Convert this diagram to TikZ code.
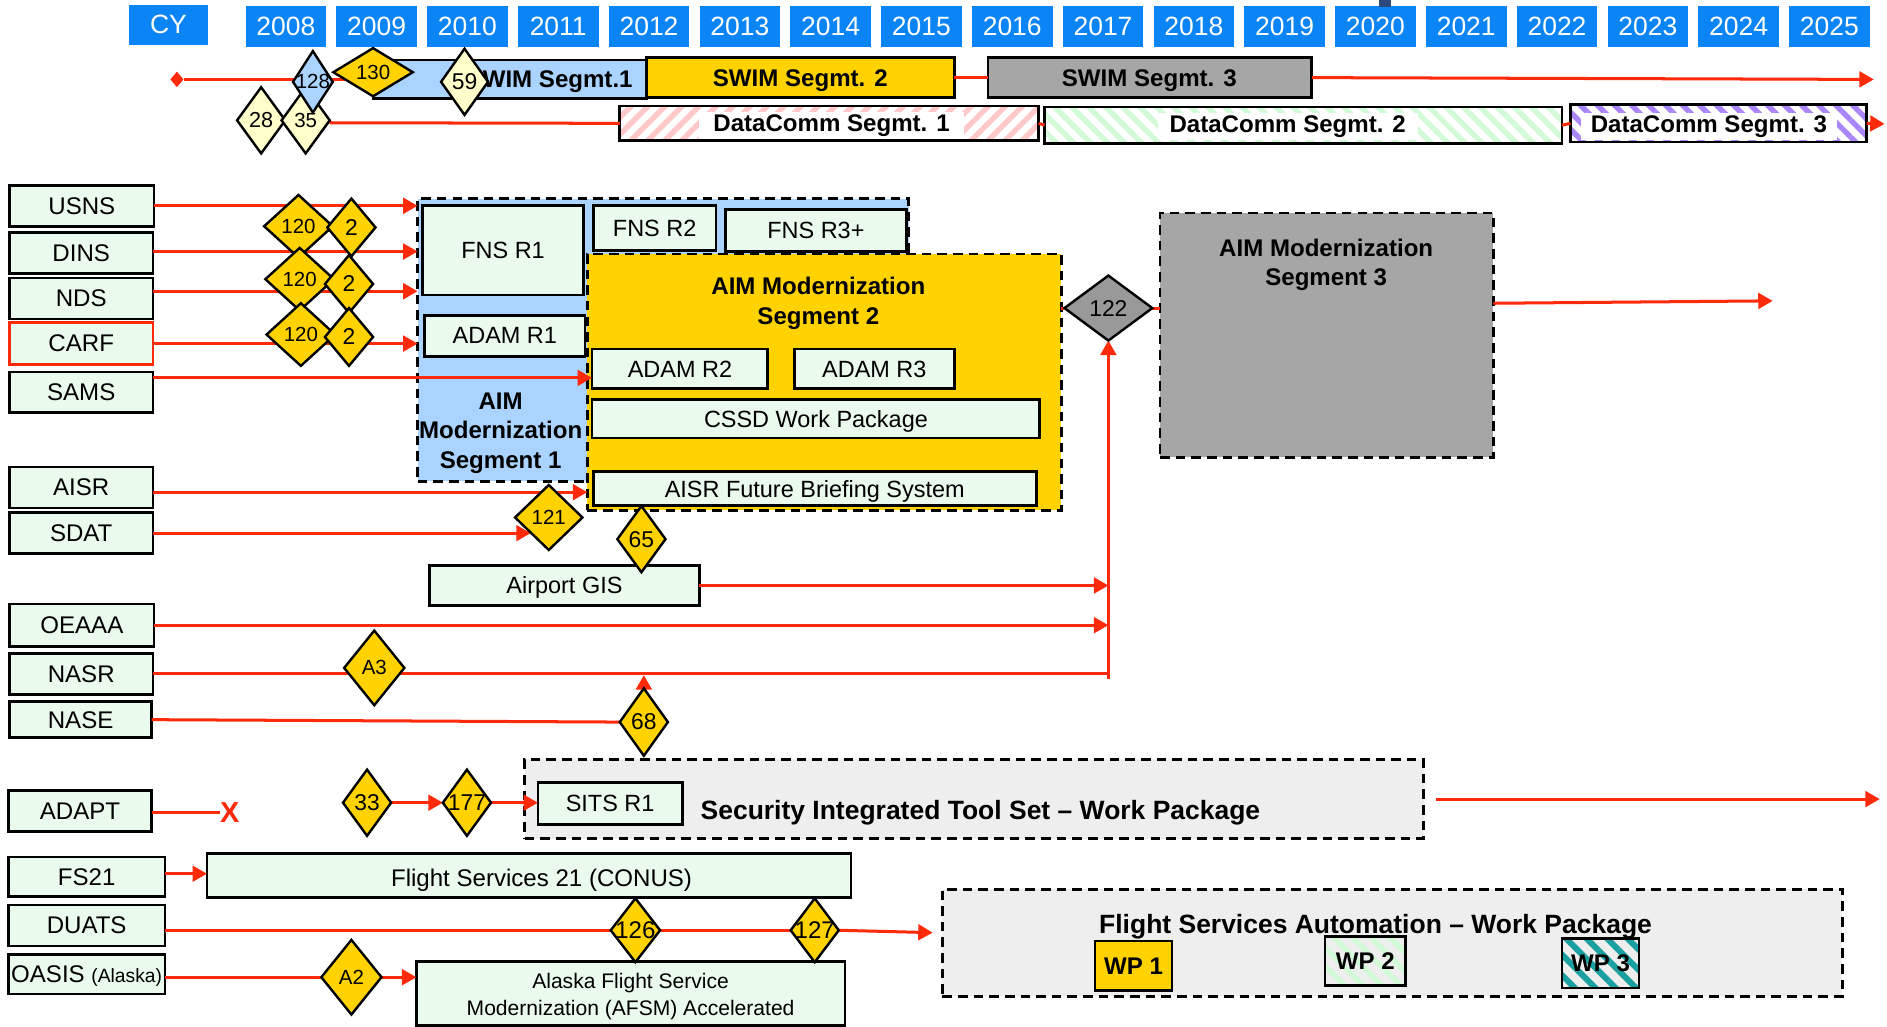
\documentclass[tikz,border=0pt]{standalone}
\usepackage{fontspec}
\setmainfont{Liberation Sans}
\usetikzlibrary{shapes.geometric,arrows.meta,patterns.meta}
\pgfdeclarelayer{front}
\pgfsetlayers{main,front}
\definecolor{lgreen}{HTML}{EAFAEC}
\definecolor{lblue}{HTML}{AAD4FF}
\definecolor{yel}{HTML}{FFD200}
\definecolor{gry}{HTML}{A6A6A6}
\definecolor{dgry}{HTML}{999999}
\definecolor{lyel}{HTML}{FFFFCC}
\definecolor{lgray}{HTML}{EEEEEE}
\definecolor{lred}{HTML}{FF2A0A}
\definecolor{yearblue}{HTML}{0B84F5}
\definecolor{navy}{HTML}{2E4A7D}
\definecolor{hpink}{HTML}{FFC8C8}
\definecolor{hgreen}{HTML}{D2FAD7}
\definecolor{hpurple}{HTML}{AA84FA}
\definecolor{hteal}{HTML}{1AA0A0}
\newcommand\fs[2]{\fontsize{#1}{#2}\selectfont}
\tikzset{
 base/.style={inner sep=0pt, outer sep=0pt, line width=2.2pt},
 gbox/.style={base, draw=black, fill=lgreen, font=\fs{20}{24}, text depth=0pt},
 ibox/.style={base, draw=black, fill=lgreen, font=\fs{19.5}{23}, text depth=0pt},
 hbox/.style={base, draw=black},
 ybox/.style={base, fill=yearblue, text=white, font=\fs{22}{26}},
 seg/.style={base, draw=black, dash pattern=on 8pt off 5pt},
 dia/.style={base, draw=black, diamond, line width=2pt},
 conn/.style={draw=lred, line width=2.5pt},
 arr/.style={conn, -{Triangle[length=12pt,width=13pt]}},
 btxt/.style={font=\bfseries\fs{20}{24}},
 wtxt/.style={btxt, fill=white, inner ysep=2pt},
 ttl/.style={font=\bfseries\fs{20}{24.5}, align=center},
}
\newcommand\rb[7]{\node[#1, minimum width={(#5)-(#3)}, minimum height={(#6)-(#4)}] (#2) at ({((#3)+(#5))/2},{((#4)+(#6))/2}) {#7};}
\newcommand\dm[8]{%
 \node[dia, fill=#6, minimum width=#4, minimum height=#5] (#1) at (#2,#3) {};
 \node[inner sep=0pt, font=\fs{#7}{#7}] (#1t) at (#1.center) {#8};}
\begin{document}
\begin{tikzpicture}[x=1pt,y=-1pt]
\fill[white] (0,0) rectangle (1568,853);
\useasboundingbox (0,0) rectangle (1568,853);

% ---------- years ----------
\rb{ybox}{cy}{107}{4}{173}{37}{CY}
\foreach \i in {0,...,17}{
 \pgfmathsetmacro\xa{204+75.45*\i}
 \pgfmathtruncatemacro\yr{2008+\i}
 \rb{ybox}{y\yr}{\xa}{5}{\xa+67}{39}{\yr}
}
\fill[navy] (1146,0) rectangle (1156,6);

% ---------- SWIM / DataComm ----------
\rb{hbox, fill=lblue}{swim1}{310}{50}{537}{82}{}
\node[btxt, anchor=west, inner sep=0pt] (swim1t) at (401,68) {WIM Segmt.1};
\rb{hbox, fill=yel, btxt}{swim2}{537}{48}{793}{81}{}
\node[btxt] (swim2t) at (665,67) {SWIM Segmt. 2};
\rb{hbox, fill=gry, btxt}{swim3}{821}{48}{1090}{81}{}
\node[btxt] (swim3t) at (955,67) {SWIM Segmt. 3};

\rb{hbox, pattern={Lines[angle=45,distance=10pt,line width=4.5pt]}, pattern color=hpink}{dc1}{515}{88}{863}{117}{}
\node[wtxt, inner xsep=12pt] (dc1t) at (691,104) {DataComm Segmt. 1};
\rb{hbox, pattern={Lines[angle=-45,distance=10pt,line width=4.5pt]}, pattern color=hgreen}{dc2}{868}{89}{1298}{119}{}
\node[wtxt, inner xsep=10pt] (dc2t) at (1070,105) {DataComm Segmt. 2};
\rb{hbox, pattern={Lines[angle=-45,distance=10pt,line width=4.5pt]}, pattern color=hpurple}{dc3}{1305}{87}{1551}{118}{}
\node[wtxt, inner xsep=8pt] (dc3t) at (1420,105) {DataComm Segmt. 3};

% ---------- left boxes ----------
\rb{gbox}{usns}{8}{154}{128}{188}{USNS}
\rb{gbox}{dins}{8}{193}{127}{227}{DINS}
\rb{gbox}{nds}{8}{231}{127}{265}{NDS}
\rb{gbox, draw=lred}{carf}{8}{268}{127}{303}{CARF}
\rb{gbox}{sams}{8}{309}{127}{343}{SAMS}
\rb{gbox}{aisr}{8}{388}{127}{422}{AISR}
\rb{gbox}{sdat}{8}{426}{127}{460}{SDAT}
\rb{gbox}{oeaaa}{8}{502}{128}{537}{OEAAA}
\rb{gbox}{nasr}{8}{543}{127}{577}{NASR}
\rb{gbox}{nase}{8}{583}{126}{613}{NASE}
\rb{gbox}{adapt}{7}{657}{126}{691}{ADAPT}
\rb{gbox}{fs21}{7}{712}{137}{745}{FS21}
\rb{gbox}{duats}{7}{752}{137}{786}{DUATS}
\rb{gbox}{oasis}{7}{793}{137}{826}{OASIS {\fs{16}{20}(Alaska)}}

% ---------- AIM segments ----------
\rb{seg, fill=lblue}{seg1}{347}{165}{755}{400}{}
\rb{ibox}{fnsr1}{351}{171}{485}{245}{FNS R1}
\rb{ibox}{adamr1}{353}{262}{486}{296}{ADAM R1}
\rb{ibox}{fnsr2}{493}{171}{595}{208}{FNS R2}
\rb{ibox}{fnsr3}{603}{174}{753}{209}{FNS R3+}
\node[ttl] (seg1t) at (416,360) {AIM\\Modernization\\Segment 1};
\rb{seg, fill=yel}{seg2}{488}{211}{882}{424}{}
\node[ttl] (seg2t) at (680,252) {AIM Modernization\\Segment 2};
\rb{ibox}{adamr2}{492}{290}{638}{323}{ADAM R2}
\rb{ibox}{adamr3}{660}{290}{793}{323}{ADAM R3}
\rb{ibox}{cssd}{492}{332}{864}{364}{CSSD Work Package}
\rb{ibox}{aisrfbs}{493}{392}{861}{420}{AISR Future Briefing System}
\rb{seg, fill=gry}{seg3}{964}{177}{1241}{380}{}
\node[ttl] (seg3t) at (1102,220) {AIM Modernization\\Segment 3};
\rb{ibox}{gis}{357}{470}{581}{503}{Airport GIS}

% ---------- SITS / flight services ----------
\rb{seg, fill=lgray}{sits}{436}{631}{1183}{697}{}
\rb{ibox}{sitsr1}{447}{650}{567}{685}{SITS R1}
\node[font=\bfseries\fs{22}{26}, anchor=west, text depth=0pt, inner sep=0pt] (sitst) at (582,673) {Security Integrated Tool Set – Work Package};
\rb{gbox}{fs21big}{172}{709}{707}{746}{}
\node[font=\fs{20}{24}, text depth=0pt, inner sep=0pt] (fs21t) at (450,729) {Flight Services 21 (CONUS)};
\rb{gbox}{afsm}{346}{799}{702}{852}{}
\node[font=\fs{17.5}{23}, align=center, inner sep=0pt] (afsmt) at (524,828) {Alaska Flight Service\\Modernization (AFSM) Accelerated};
\rb{seg, fill=lgray}{fsa}{783}{739}{1531}{828}{}
\node[font=\bfseries\fs{22}{26}, text depth=0pt, inner sep=0pt] (fsat) at (1143,768) {Flight Services Automation – Work Package};
\rb{hbox, fill=yel, font=\bfseries\fs{20}{24}}{wp1}{910}{782}{974}{823}{WP 1}
\rb{hbox, pattern={Lines[angle=-45,distance=11pt,line width=4.5pt]}, pattern color=hgreen}{wp2}{1101}{778}{1168}{819}{}
\node[font=\bfseries\fs{20}{24}] (wp2t) at (wp2.center) {WP 2};
\rb{hbox, pattern={Lines[angle=-45,distance=12pt,line width=5pt]}, pattern color=hteal}{wp3}{1298}{780}{1362}{821}{}
\node[font=\bfseries\fs{20}{24}] (wp3t) at (wp3.center) {WP 3};

% ---------- diamonds (front layer) ----------
\begin{pgfonlayer}{front}
\dm{d28}{217}{100}{40}{55}{lyel}{18}{28}
\dm{d35}{254}{100}{40}{55}{lyel}{17}{35}
\dm{d128}{260}{68}{33}{51}{lblue}{17}{128}
\dm{d130}{310}{60}{66}{40}{yel}{17}{130}
\dm{d59}{386}{68}{39}{55}{lyel}{19}{59}
\dm{da1}{248}{188}{57}{52}{yel}{17}{120}
\dm{db1}{292}{189}{40}{48}{yel}{19}{2}
\dm{da2}{249}{232}{57}{52}{yel}{17}{120}
\dm{db2}{290}{236}{40}{48}{yel}{19}{2}
\dm{da3}{250}{278}{57}{52}{yel}{17}{120}
\dm{db3}{290}{280}{40}{48}{yel}{19}{2}
\dm{d122}{921}{256}{73}{54}{dgry}{19}{122}
\dm{d121}{456}{430}{56}{54}{yel}{17}{121}
\dm{d65}{533}{448}{40}{55}{yel}{19}{65}
\dm{dA3}{311}{555}{50}{62}{yel}{17}{A3}
\dm{d68}{535}{600}{40}{56}{yel}{19}{68}
\dm{d33}{305}{667}{40}{55}{yel}{19}{33}
\dm{d177}{388}{667}{40}{55}{yel}{19}{177}
\dm{d126}{528}{773}{41}{53}{yel}{20}{126}
\dm{d127}{677}{773}{40}{53}{yel}{20}{127}
\dm{dA2}{292}{812}{50}{62}{yel}{17}{A2}
\end{pgfonlayer}

% ---------- connectors ----------
\node[diamond, fill=lred, minimum width=11, minimum height=13, inner sep=0pt] (mk) at (147,66) {};
\draw[conn] (mk) -- (swim1.west);
\draw[conn] (swim2.east) -- (swim3.west);
\coordinate (r1end) at (1557,66);
\draw[arr] (swim3.east) -- (r1end);
\draw[conn] ([yshift=-2pt]d35.east) -- (dc1.west);
\draw[conn] (dc1.east) -- (dc2.west);
\draw[conn] (dc2.east) -- (dc3.west);
\coordinate (r2end) at (1566,103);
\draw[arr] (dc3.east) -- (r2end);

\draw[arr] (usns.east) -- (usns.east -| seg1.west);
\draw[arr] ([yshift=1pt]dins.east) -- ([yshift=1pt]dins.east -| seg1.west);
\draw[arr] ([yshift=6pt]nds.east) -- ([yshift=6pt]nds.east -| seg1.west);
\draw[arr] (carf.east) -- (carf.east -| seg1.west);
\draw[arr] ([yshift=12pt]sams.east) -- ([yshift=12pt]sams.east -| adamr2.west);
\draw[arr] ([yshift=-4pt]aisr.east) -- ([yshift=-4pt]aisr.east -| seg2.west);
\coordinate (sdatend) at (441,443);
\draw[arr] (sdat.east) -- (sdatend);

\coordinate (vbot) at (921,564);
\draw[arr] (vbot) -- (d122.south);
\draw[conn] (nasr.east) -- (nasr.east -| vbot);
\draw[arr] (oeaaa.east) -- (oeaaa.east -| vbot);
\draw[arr] (gis.east) -- (gis.east -| vbot);
\draw[conn] (nase.east) -- (d68.west);
\coordinate (n68) at (535,561);
\draw[arr] (d68.north) -- (n68);
\draw[conn] (seg2.east |- d122) -- (d122.west);
\draw[conn] (d122.east) -- (d122.east -| seg3.west);
\coordinate (s3end) at (1473,250);
\draw[arr] (seg3.east |- 0,252) -- (s3end);

\node[text=lred, font=\bfseries\fs{24}{24}, inner sep=0pt] (xmark) at (191,675) {X};
\draw[conn] (adapt.east |- xmark) -- (xmark.west);
\draw[arr] (d33.east) -- (d177.west);
\draw[arr] (d177.east) -- (sitsr1.west |- d177.east);
\coordinate (sitsend) at (1562,664);
\draw[arr, shorten <=10pt] (sits.east) -- (sitsend);

\draw[arr] (fs21.east |- 0,726) -- (fs21big.west |- 0,726);
\draw[conn] (duats.east |- d126) -- (d126.west);
\draw[conn] (d126.east) -- (d127.west);
\coordinate (fsain) at (775,775);
\draw[arr] (d127.east) -- (fsain);
\draw[conn] (oasis.east |- dA2) -- (dA2.west);
\draw[arr] (dA2.east) -- (dA2.east -| afsm.west);
\end{tikzpicture}
\end{document}
